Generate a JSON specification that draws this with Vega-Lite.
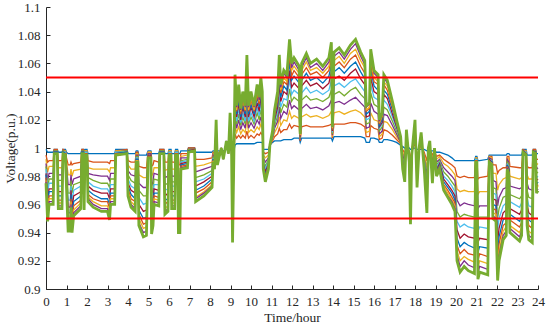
{
"$schema": "https://vega.github.io/schema/vega-lite/v6.json",
"width": 492, "height": 282,
"autosize": {"type": "none"},
"padding": {"left": 46, "top": 7, "right": 12, "bottom": 37},
"background": "white",
"config": {
  "view": {"stroke": null},
  "font": "Liberation Serif",
  "axis": {"domainColor": "#262626", "domainWidth": 1, "tickColor": "#262626", "tickWidth": 1, "tickSize": 4, "labelColor": "#262626", "labelFont": "Liberation Serif", "labelFontSize": 13, "titleFont": "Liberation Serif", "titleFontSize": 13.5, "titleFontWeight": "normal", "titleColor": "#262626", "grid": false, "labelPadding": 6, "labelOverlap": false, "labelFlush": false, "labelBound": false}
},
"resolve": {"axis": {"x": "independent", "y": "independent"}},
"datasets": {"v": [
{"t":0,"a":0.999,"b":0.995,"c":0.992,"d":0.989,"e":0.987,"f":0.985,"g":0.982,"h":0.981,"i":0.979,"j":0.977,"k":0.976,"l":0.975},
{"t":0.08,"a":0.997,"b":0.990,"c":0.983,"d":0.977,"e":0.972,"f":0.968,"g":0.963,"h":0.959,"i":0.956,"j":0.953,"k":0.950,"l":0.948},
{"t":0.15,"a":0.997,"b":0.991,"c":0.987,"d":0.982,"e":0.978,"f":0.975,"g":0.971,"h":0.969,"i":0.966,"j":0.964,"k":0.962,"l":0.960},
{"t":0.35,"a":0.997,"b":0.991,"c":0.987,"d":0.982,"e":0.978,"f":0.975,"g":0.971,"h":0.969,"i":0.966,"j":0.964,"k":0.962,"l":0.960},
{"t":0.4,"a":0.999,"b":0.999,"c":0.998,"d":0.998,"e":0.998,"f":0.997,"g":0.997,"h":0.997,"i":0.996,"j":0.996,"k":0.996,"l":0.996},
{"t":0.55,"a":0.999,"b":0.999,"c":0.998,"d":0.998,"e":0.998,"f":0.997,"g":0.997,"h":0.997,"i":0.996,"j":0.996,"k":0.996,"l":0.996},
{"t":0.6,"a":0.997,"b":0.991,"c":0.986,"d":0.981,"e":0.977,"f":0.973,"g":0.969,"h":0.966,"i":0.963,"j":0.961,"k":0.959,"l":0.957},
{"t":0.78,"a":0.997,"b":0.991,"c":0.986,"d":0.981,"e":0.977,"f":0.973,"g":0.969,"h":0.966,"i":0.963,"j":0.961,"k":0.959,"l":0.957},
{"t":0.83,"a":0.999,"b":0.999,"c":0.998,"d":0.998,"e":0.998,"f":0.997,"g":0.997,"h":0.997,"i":0.996,"j":0.996,"k":0.996,"l":0.996},
{"t":0.95,"a":0.999,"b":0.998,"c":0.998,"d":0.997,"e":0.997,"f":0.997,"g":0.996,"h":0.996,"i":0.996,"j":0.995,"k":0.995,"l":0.995},
{"t":1.0,"a":0.997,"b":0.993,"c":0.990,"d":0.987,"e":0.984,"f":0.982,"g":0.980,"h":0.978,"i":0.976,"j":0.974,"k":0.973,"l":0.972},
{"t":1.08,"a":0.996,"b":0.988,"c":0.981,"d":0.974,"e":0.968,"f":0.963,"g":0.958,"h":0.954,"i":0.950,"j":0.946,"k":0.944,"l":0.941},
{"t":1.18,"a":0.996,"b":0.988,"c":0.981,"d":0.974,"e":0.968,"f":0.963,"g":0.958,"h":0.954,"i":0.950,"j":0.946,"k":0.944,"l":0.941},
{"t":1.22,"a":0.996,"b":0.990,"c":0.985,"d":0.981,"e":0.977,"f":0.973,"g":0.970,"h":0.967,"i":0.964,"j":0.962,"k":0.960,"l":0.958},
{"t":1.27,"a":0.996,"b":0.988,"c":0.980,"d":0.974,"e":0.968,"f":0.962,"g":0.957,"h":0.953,"i":0.949,"j":0.946,"k":0.943,"l":0.940},
{"t":1.35,"a":0.996,"b":0.989,"c":0.984,"d":0.978,"e":0.974,"f":0.970,"g":0.966,"h":0.962,"i":0.959,"j":0.956,"k":0.954,"l":0.952},
{"t":1.7,"a":0.996,"b":0.990,"c":0.985,"d":0.980,"e":0.976,"f":0.973,"g":0.969,"h":0.966,"i":0.963,"j":0.961,"k":0.959,"l":0.957},
{"t":1.75,"a":0.999,"b":0.999,"c":0.998,"d":0.998,"e":0.998,"f":0.997,"g":0.997,"h":0.997,"i":0.996,"j":0.996,"k":0.996,"l":0.996},
{"t":1.83,"a":0.999,"b":0.999,"c":0.998,"d":0.998,"e":0.998,"f":0.997,"g":0.997,"h":0.997,"i":0.996,"j":0.996,"k":0.996,"l":0.996},
{"t":1.86,"a":0.998,"b":0.992,"c":0.986,"d":0.981,"e":0.977,"f":0.973,"g":0.969,"h":0.966,"i":0.963,"j":0.960,"k":0.958,"l":0.956},
{"t":1.9,"a":0.999,"b":0.998,"c":0.998,"d":0.997,"e":0.997,"f":0.997,"g":0.996,"h":0.996,"i":0.996,"j":0.995,"k":0.995,"l":0.995},
{"t":2.0,"a":0.999,"b":0.998,"c":0.998,"d":0.997,"e":0.997,"f":0.997,"g":0.996,"h":0.996,"i":0.996,"j":0.995,"k":0.995,"l":0.995},
{"t":2.05,"a":0.996,"b":0.991,"c":0.986,"d":0.982,"e":0.979,"f":0.976,"g":0.973,"h":0.970,"i":0.967,"j":0.965,"k":0.964,"l":0.962},
{"t":2.3,"a":0.996,"b":0.990,"c":0.985,"d":0.981,"e":0.977,"f":0.973,"g":0.970,"h":0.967,"i":0.964,"j":0.962,"k":0.960,"l":0.958},
{"t":2.7,"a":0.996,"b":0.990,"c":0.985,"d":0.980,"e":0.975,"f":0.971,"g":0.968,"h":0.964,"i":0.962,"j":0.959,"k":0.957,"l":0.955},
{"t":3.0,"a":0.996,"b":0.990,"c":0.985,"d":0.980,"e":0.975,"f":0.971,"g":0.968,"h":0.964,"i":0.962,"j":0.959,"k":0.957,"l":0.955},
{"t":3.1,"a":0.996,"b":0.989,"c":0.983,"d":0.977,"e":0.972,"f":0.968,"g":0.964,"h":0.960,"i":0.957,"j":0.954,"k":0.951,"l":0.949},
{"t":3.15,"a":0.996,"b":0.991,"c":0.986,"d":0.982,"e":0.978,"f":0.974,"g":0.971,"h":0.968,"i":0.966,"j":0.964,"k":0.962,"l":0.960},
{"t":3.35,"a":0.996,"b":0.991,"c":0.986,"d":0.982,"e":0.978,"f":0.974,"g":0.971,"h":0.968,"i":0.966,"j":0.964,"k":0.962,"l":0.960},
{"t":3.4,"a":0.999,"b":0.998,"c":0.998,"d":0.997,"e":0.997,"f":0.997,"g":0.996,"h":0.996,"i":0.996,"j":0.995,"k":0.995,"l":0.995},
{"t":3.95,"a":0.999,"b":0.999,"c":0.998,"d":0.998,"e":0.998,"f":0.997,"g":0.997,"h":0.997,"i":0.996,"j":0.996,"k":0.996,"l":0.996},
{"t":4.0,"a":0.996,"b":0.991,"c":0.988,"d":0.984,"e":0.981,"f":0.978,"g":0.975,"h":0.973,"i":0.971,"j":0.969,"k":0.967,"l":0.966},
{"t":4.15,"a":0.996,"b":0.990,"c":0.985,"d":0.981,"e":0.977,"f":0.973,"g":0.970,"h":0.967,"i":0.964,"j":0.962,"k":0.960,"l":0.958},
{"t":4.35,"a":0.996,"b":0.990,"c":0.985,"d":0.980,"e":0.975,"f":0.971,"g":0.968,"h":0.964,"i":0.962,"j":0.959,"k":0.957,"l":0.955},
{"t":4.4,"a":0.998,"b":0.997,"c":0.996,"d":0.995,"e":0.994,"f":0.993,"g":0.992,"h":0.992,"i":0.991,"j":0.991,"k":0.990,"l":0.990},
{"t":4.48,"a":0.998,"b":0.997,"c":0.996,"d":0.995,"e":0.994,"f":0.993,"g":0.992,"h":0.992,"i":0.991,"j":0.991,"k":0.990,"l":0.990},
{"t":4.53,"a":0.995,"b":0.987,"c":0.981,"d":0.975,"e":0.970,"f":0.965,"g":0.960,"h":0.956,"i":0.953,"j":0.950,"k":0.947,"l":0.945},
{"t":4.75,"a":0.995,"b":0.986,"c":0.979,"d":0.972,"e":0.966,"f":0.960,"g":0.955,"h":0.950,"i":0.946,"j":0.943,"k":0.940,"l":0.937},
{"t":4.9,"a":0.995,"b":0.986,"c":0.979,"d":0.972,"e":0.966,"f":0.961,"g":0.956,"h":0.951,"i":0.947,"j":0.944,"k":0.941,"l":0.938},
{"t":4.98,"a":0.998,"b":0.997,"c":0.997,"d":0.996,"e":0.995,"f":0.995,"g":0.995,"h":0.994,"i":0.994,"j":0.993,"k":0.993,"l":0.993},
{"t":5.12,"a":0.998,"b":0.997,"c":0.997,"d":0.996,"e":0.995,"f":0.995,"g":0.995,"h":0.994,"i":0.994,"j":0.993,"k":0.993,"l":0.993},
{"t":5.15,"a":0.996,"b":0.987,"c":0.980,"d":0.973,"e":0.967,"f":0.962,"g":0.957,"h":0.952,"i":0.948,"j":0.945,"k":0.942,"l":0.939},
{"t":5.22,"a":0.996,"b":0.988,"c":0.982,"d":0.976,"e":0.970,"f":0.965,"g":0.961,"h":0.957,"i":0.953,"j":0.950,"k":0.948,"l":0.945},
{"t":5.27,"a":0.996,"b":0.991,"c":0.986,"d":0.982,"e":0.978,"f":0.974,"g":0.971,"h":0.968,"i":0.966,"j":0.964,"k":0.962,"l":0.960},
{"t":5.5,"a":0.996,"b":0.990,"c":0.986,"d":0.981,"e":0.977,"f":0.974,"g":0.970,"h":0.968,"i":0.965,"j":0.963,"k":0.961,"l":0.959},
{"t":5.55,"a":0.999,"b":0.999,"c":0.998,"d":0.998,"e":0.998,"f":0.997,"g":0.997,"h":0.997,"i":0.996,"j":0.996,"k":0.996,"l":0.996},
{"t":5.75,"a":0.999,"b":0.999,"c":0.998,"d":0.998,"e":0.998,"f":0.997,"g":0.997,"h":0.997,"i":0.996,"j":0.996,"k":0.996,"l":0.996},
{"t":5.8,"a":0.996,"b":0.990,"c":0.984,"d":0.979,"e":0.974,"f":0.970,"g":0.966,"h":0.963,"i":0.960,"j":0.957,"k":0.955,"l":0.953},
{"t":5.95,"a":0.996,"b":0.990,"c":0.985,"d":0.980,"e":0.975,"f":0.971,"g":0.968,"h":0.964,"i":0.962,"j":0.959,"k":0.957,"l":0.955},
{"t":6.0,"a":0.999,"b":0.998,"c":0.998,"d":0.997,"e":0.997,"f":0.997,"g":0.996,"h":0.996,"i":0.996,"j":0.995,"k":0.995,"l":0.995},
{"t":6.1,"a":0.999,"b":0.998,"c":0.998,"d":0.997,"e":0.997,"f":0.997,"g":0.996,"h":0.996,"i":0.996,"j":0.995,"k":0.995,"l":0.995},
{"t":6.13,"a":0.996,"b":0.990,"c":0.985,"d":0.980,"e":0.976,"f":0.973,"g":0.969,"h":0.966,"i":0.963,"j":0.961,"k":0.959,"l":0.957},
{"t":6.28,"a":0.996,"b":0.990,"c":0.985,"d":0.980,"e":0.976,"f":0.973,"g":0.969,"h":0.966,"i":0.963,"j":0.961,"k":0.959,"l":0.957},
{"t":6.32,"a":0.999,"b":0.998,"c":0.998,"d":0.997,"e":0.997,"f":0.997,"g":0.996,"h":0.996,"i":0.996,"j":0.995,"k":0.995,"l":0.995},
{"t":6.42,"a":0.999,"b":0.998,"c":0.998,"d":0.997,"e":0.997,"f":0.997,"g":0.996,"h":0.996,"i":0.996,"j":0.995,"k":0.995,"l":0.995},
{"t":6.46,"a":0.996,"b":0.988,"c":0.980,"d":0.974,"e":0.968,"f":0.962,"g":0.957,"h":0.953,"i":0.949,"j":0.946,"k":0.943,"l":0.940},
{"t":6.53,"a":0.996,"b":0.988,"c":0.980,"d":0.974,"e":0.968,"f":0.962,"g":0.957,"h":0.953,"i":0.949,"j":0.946,"k":0.943,"l":0.940},
{"t":6.58,"a":0.998,"b":0.996,"c":0.994,"d":0.993,"e":0.991,"f":0.990,"g":0.989,"h":0.988,"i":0.987,"j":0.986,"k":0.986,"l":0.985},
{"t":6.9,"a":0.998,"b":0.996,"c":0.995,"d":0.993,"e":0.992,"f":0.991,"g":0.990,"h":0.989,"i":0.988,"j":0.987,"k":0.987,"l":0.986},
{"t":6.95,"a":1.000,"b":1.000,"c":0.999,"d":0.999,"e":0.999,"f":0.998,"g":0.998,"h":0.998,"i":0.997,"j":0.997,"k":0.997,"l":0.997},
{"t":7.25,"a":1.000,"b":1.000,"c":0.999,"d":0.999,"e":0.999,"f":0.999,"g":0.999,"h":0.998,"i":0.998,"j":0.998,"k":0.998,"l":0.998},
{"t":7.3,"a":0.997,"b":0.992,"c":0.987,"d":0.983,"e":0.979,"f":0.976,"g":0.973,"h":0.970,"i":0.968,"j":0.965,"k":0.964,"l":0.962},
{"t":7.7,"a":0.997,"b":0.992,"c":0.988,"d":0.985,"e":0.981,"f":0.978,"g":0.976,"h":0.973,"i":0.971,"j":0.969,"k":0.968,"l":0.966},
{"t":8.1,"a":0.997,"b":0.993,"c":0.990,"d":0.987,"e":0.984,"f":0.982,"g":0.980,"h":0.978,"i":0.976,"j":0.974,"k":0.973,"l":0.972},
{"t":8.15,"a":0.998,"b":0.997,"c":0.996,"d":0.995,"e":0.994,"f":0.993,"g":0.992,"h":0.992,"i":0.991,"j":0.991,"k":0.990,"l":0.990},
{"t":8.22,"a":0.998,"b":0.996,"c":0.994,"d":0.993,"e":0.991,"f":0.990,"g":0.989,"h":0.988,"i":0.987,"j":0.986,"k":0.986,"l":0.985},
{"t":8.3,"a":0.998,"b":1.001,"c":1.004,"d":1.007,"e":1.009,"f":1.011,"g":1.013,"h":1.015,"i":1.016,"j":1.018,"k":1.019,"l":1.020},
{"t":8.36,"a":0.998,"b":0.996,"c":0.995,"d":0.994,"e":0.993,"f":0.992,"g":0.991,"h":0.990,"i":0.990,"j":0.989,"k":0.988,"l":0.988},
{"t":8.55,"a":0.998,"b":0.998,"c":0.999,"d":0.999,"e":0.999,"f":0.999,"g":0.999,"h":1.000,"i":1.000,"j":1.000,"k":1.000,"l":1.000},
{"t":8.65,"a":0.998,"b":0.997,"c":0.996,"d":0.996,"e":0.995,"f":0.994,"g":0.994,"h":0.993,"i":0.993,"j":0.993,"k":0.992,"l":0.992},
{"t":8.8,"a":0.999,"b":1.000,"c":1.001,"d":1.001,"e":1.002,"f":1.003,"g":1.003,"h":1.004,"i":1.004,"j":1.004,"k":1.005,"l":1.005},
{"t":8.9,"a":0.999,"b":0.999,"c":0.998,"d":0.998,"e":0.998,"f":0.997,"g":0.997,"h":0.997,"i":0.996,"j":0.996,"k":0.996,"l":0.996},
{"t":8.98,"a":0.999,"b":1.003,"c":1.006,"d":1.009,"e":1.012,"f":1.015,"g":1.017,"h":1.019,"i":1.021,"j":1.022,"k":1.024,"l":1.025},
{"t":9.05,"a":0.998,"b":0.998,"c":0.999,"d":0.999,"e":0.999,"f":0.999,"g":0.999,"h":1.000,"i":1.000,"j":1.000,"k":1.000,"l":1.000},
{"t":9.1,"a":0.996,"b":0.987,"c":0.978,"d":0.971,"e":0.964,"f":0.958,"g":0.953,"h":0.947,"i":0.943,"j":0.939,"k":0.936,"l":0.933},
{"t":9.17,"a":0.998,"b":0.998,"c":0.999,"d":0.999,"e":0.999,"f":0.999,"g":0.999,"h":1.000,"i":1.000,"j":1.000,"k":1.000,"l":1.000},
{"t":9.22,"a":1.002,"b":1.010,"c":1.016,"d":1.022,"e":1.027,"f":1.032,"g":1.037,"h":1.041,"i":1.044,"j":1.047,"k":1.050,"l":1.052},
{"t":9.3,"a":1.003,"b":1.007,"c":1.011,"d":1.014,"e":1.017,"f":1.019,"g":1.022,"h":1.024,"i":1.026,"j":1.027,"k":1.029,"l":1.030},
{"t":9.4,"a":1.003,"b":1.009,"c":1.015,"d":1.020,"e":1.024,"f":1.028,"g":1.032,"h":1.035,"i":1.038,"j":1.041,"k":1.043,"l":1.045},
{"t":9.5,"a":1.003,"b":1.007,"c":1.010,"d":1.013,"e":1.016,"f":1.018,"g":1.020,"h":1.022,"i":1.024,"j":1.026,"k":1.027,"l":1.028},
{"t":9.6,"a":1.003,"b":1.009,"c":1.013,"d":1.018,"e":1.022,"f":1.025,"g":1.029,"h":1.031,"i":1.034,"j":1.036,"k":1.038,"l":1.040},
{"t":9.72,"a":1.003,"b":1.007,"c":1.011,"d":1.014,"e":1.017,"f":1.019,"g":1.022,"h":1.024,"i":1.026,"j":1.027,"k":1.029,"l":1.030},
{"t":9.8,"a":1.003,"b":1.012,"c":1.021,"d":1.028,"e":1.035,"f":1.041,"g":1.046,"h":1.052,"i":1.056,"j":1.060,"k":1.063,"l":1.066},
{"t":9.88,"a":1.003,"b":1.007,"c":1.011,"d":1.014,"e":1.017,"f":1.019,"g":1.022,"h":1.024,"i":1.026,"j":1.027,"k":1.029,"l":1.030},
{"t":10.0,"a":1.003,"b":1.009,"c":1.013,"d":1.018,"e":1.022,"f":1.025,"g":1.029,"h":1.031,"i":1.034,"j":1.036,"k":1.038,"l":1.040},
{"t":10.15,"a":1.003,"b":1.007,"c":1.011,"d":1.014,"e":1.017,"f":1.019,"g":1.022,"h":1.024,"i":1.026,"j":1.027,"k":1.029,"l":1.030},
{"t":10.3,"a":1.004,"b":1.010,"c":1.015,"d":1.020,"e":1.025,"f":1.029,"g":1.032,"h":1.036,"i":1.038,"j":1.041,"k":1.043,"l":1.045},
{"t":10.4,"a":1.004,"b":1.009,"c":1.013,"d":1.017,"e":1.020,"f":1.023,"g":1.026,"h":1.029,"i":1.031,"j":1.033,"k":1.034,"l":1.036},
{"t":10.48,"a":1.004,"b":1.011,"c":1.017,"d":1.022,"e":1.027,"f":1.032,"g":1.036,"h":1.039,"i":1.043,"j":1.045,"k":1.048,"l":1.050},
{"t":10.55,"a":1.004,"b":1.009,"c":1.014,"d":1.018,"e":1.022,"f":1.026,"g":1.029,"h":1.032,"i":1.034,"j":1.036,"k":1.038,"l":1.040},
{"t":10.6,"a":0.999,"b":0.997,"c":0.995,"d":0.993,"e":0.992,"f":0.991,"g":0.989,"h":0.988,"i":0.987,"j":0.986,"k":0.986,"l":0.985},
{"t":10.7,"a":0.999,"b":0.996,"c":0.993,"d":0.990,"e":0.987,"f":0.985,"g":0.983,"h":0.981,"i":0.980,"j":0.978,"k":0.977,"l":0.976},
{"t":10.85,"a":0.999,"b":0.997,"c":0.995,"d":0.993,"e":0.992,"f":0.991,"g":0.989,"h":0.988,"i":0.987,"j":0.986,"k":0.986,"l":0.985},
{"t":10.92,"a":1.002,"b":1.002,"c":1.002,"d":1.002,"e":1.002,"f":1.002,"g":1.002,"h":1.002,"i":1.002,"j":1.002,"k":1.002,"l":1.002},
{"t":11.05,"a":1.004,"b":1.005,"c":1.006,"d":1.007,"e":1.008,"f":1.009,"g":1.010,"h":1.010,"i":1.011,"j":1.011,"k":1.012,"l":1.012},
{"t":11.15,"a":1.005,"b":1.008,"c":1.011,"d":1.014,"e":1.016,"f":1.018,"g":1.020,"h":1.022,"i":1.023,"j":1.025,"k":1.026,"l":1.027},
{"t":11.3,"a":1.005,"b":1.010,"c":1.015,"d":1.019,"e":1.023,"f":1.026,"g":1.029,"h":1.032,"i":1.034,"j":1.037,"k":1.038,"l":1.040},
{"t":11.38,"a":1.005,"b":1.014,"c":1.022,"d":1.029,"e":1.036,"f":1.042,"g":1.047,"h":1.052,"i":1.056,"j":1.060,"k":1.063,"l":1.066},
{"t":11.45,"a":1.005,"b":1.011,"c":1.016,"d":1.021,"e":1.025,"f":1.029,"g":1.033,"h":1.036,"i":1.039,"j":1.041,"k":1.043,"l":1.045},
{"t":11.6,"a":1.006,"b":1.013,"c":1.020,"d":1.026,"e":1.031,"f":1.035,"g":1.040,"h":1.044,"i":1.047,"j":1.050,"k":1.053,"l":1.055},
{"t":11.75,"a":1.006,"b":1.013,"c":1.019,"d":1.024,"e":1.029,"f":1.034,"g":1.038,"h":1.041,"i":1.045,"j":1.047,"k":1.050,"l":1.052},
{"t":11.88,"a":1.006,"b":1.017,"c":1.026,"d":1.034,"e":1.042,"f":1.049,"g":1.055,"h":1.061,"i":1.066,"j":1.070,"k":1.073,"l":1.077},
{"t":11.98,"a":1.006,"b":1.014,"c":1.021,"d":1.028,"e":1.033,"f":1.038,"g":1.043,"h":1.048,"i":1.051,"j":1.055,"k":1.057,"l":1.060},
{"t":12.1,"a":1.007,"b":1.016,"c":1.023,"d":1.030,"e":1.036,"f":1.041,"g":1.046,"h":1.051,"i":1.055,"j":1.058,"k":1.061,"l":1.064},
{"t":12.35,"a":1.007,"b":1.015,"c":1.021,"d":1.027,"e":1.033,"f":1.038,"g":1.042,"h":1.046,"i":1.050,"j":1.053,"k":1.055,"l":1.058},
{"t":12.4,"a":1.004,"b":1.005,"c":1.006,"d":1.006,"e":1.007,"f":1.008,"g":1.008,"h":1.009,"i":1.009,"j":1.009,"k":1.010,"l":1.010},
{"t":12.47,"a":1.007,"b":1.015,"c":1.022,"d":1.028,"e":1.034,"f":1.039,"g":1.044,"h":1.048,"i":1.052,"j":1.055,"k":1.057,"l":1.060},
{"t":12.7,"a":1.007,"b":1.016,"c":1.024,"d":1.031,"e":1.037,"f":1.043,"g":1.048,"h":1.053,"i":1.057,"j":1.061,"k":1.064,"l":1.067},
{"t":12.9,"a":1.007,"b":1.015,"c":1.022,"d":1.028,"e":1.034,"f":1.039,"g":1.044,"h":1.048,"i":1.052,"j":1.055,"k":1.057,"l":1.060},
{"t":13.2,"a":1.007,"b":1.015,"c":1.023,"d":1.029,"e":1.035,"f":1.041,"g":1.046,"h":1.050,"i":1.054,"j":1.057,"k":1.060,"l":1.063},
{"t":13.5,"a":1.007,"b":1.015,"c":1.021,"d":1.027,"e":1.033,"f":1.038,"g":1.042,"h":1.046,"i":1.050,"j":1.053,"k":1.055,"l":1.058},
{"t":13.8,"a":1.007,"b":1.016,"c":1.023,"d":1.030,"e":1.036,"f":1.041,"g":1.046,"h":1.051,"i":1.055,"j":1.058,"k":1.061,"l":1.064},
{"t":13.92,"a":1.007,"b":1.017,"c":1.026,"d":1.034,"e":1.041,"f":1.048,"g":1.054,"h":1.059,"i":1.064,"j":1.068,"k":1.072,"l":1.075},
{"t":13.97,"a":1.005,"b":1.007,"c":1.008,"d":1.009,"e":1.010,"f":1.011,"g":1.012,"h":1.013,"i":1.013,"j":1.014,"k":1.015,"l":1.015},
{"t":14.05,"a":1.008,"b":1.017,"c":1.025,"d":1.032,"e":1.038,"f":1.044,"g":1.049,"h":1.054,"i":1.058,"j":1.062,"k":1.065,"l":1.068},
{"t":14.3,"a":1.008,"b":1.017,"c":1.026,"d":1.033,"e":1.040,"f":1.046,"g":1.051,"h":1.057,"i":1.061,"j":1.065,"k":1.068,"l":1.071},
{"t":14.55,"a":1.008,"b":1.017,"c":1.024,"d":1.031,"e":1.037,"f":1.043,"g":1.048,"h":1.053,"i":1.057,"j":1.060,"k":1.063,"l":1.066},
{"t":14.85,"a":1.008,"b":1.018,"c":1.026,"d":1.034,"e":1.041,"f":1.047,"g":1.053,"h":1.058,"i":1.063,"j":1.067,"k":1.070,"l":1.073},
{"t":15.1,"a":1.008,"b":1.018,"c":1.027,"d":1.036,"e":1.043,"f":1.049,"g":1.056,"h":1.061,"i":1.066,"j":1.070,"k":1.074,"l":1.077},
{"t":15.35,"a":1.008,"b":1.017,"c":1.025,"d":1.032,"e":1.038,"f":1.044,"g":1.049,"h":1.054,"i":1.058,"j":1.062,"k":1.065,"l":1.068},
{"t":15.55,"a":1.007,"b":1.015,"c":1.022,"d":1.029,"e":1.035,"f":1.040,"g":1.045,"h":1.049,"i":1.053,"j":1.057,"k":1.059,"l":1.062},
{"t":15.62,"a":1.004,"b":1.008,"c":1.011,"d":1.014,"e":1.017,"f":1.020,"g":1.022,"h":1.024,"i":1.026,"j":1.027,"k":1.029,"l":1.030},
{"t":15.78,"a":1.004,"b":1.008,"c":1.012,"d":1.015,"e":1.018,"f":1.021,"g":1.023,"h":1.026,"i":1.028,"j":1.029,"k":1.031,"l":1.032},
{"t":15.84,"a":1.007,"b":1.016,"c":1.025,"d":1.032,"e":1.039,"f":1.045,"g":1.050,"h":1.056,"i":1.060,"j":1.064,"k":1.067,"l":1.070},
{"t":16.0,"a":1.007,"b":1.014,"c":1.020,"d":1.026,"e":1.031,"f":1.036,"g":1.040,"h":1.044,"i":1.047,"j":1.050,"k":1.053,"l":1.055},
{"t":16.2,"a":1.006,"b":1.013,"c":1.019,"d":1.024,"e":1.029,"f":1.034,"g":1.038,"h":1.041,"i":1.045,"j":1.047,"k":1.050,"l":1.052},
{"t":16.26,"a":1.004,"b":1.006,"c":1.008,"d":1.010,"e":1.012,"f":1.014,"g":1.015,"h":1.016,"i":1.017,"j":1.018,"k":1.019,"l":1.020},
{"t":16.4,"a":1.004,"b":1.007,"c":1.010,"d":1.012,"e":1.015,"f":1.017,"g":1.018,"h":1.020,"i":1.022,"j":1.023,"k":1.024,"l":1.025},
{"t":16.48,"a":1.006,"b":1.013,"c":1.019,"d":1.024,"e":1.029,"f":1.034,"g":1.038,"h":1.041,"i":1.045,"j":1.047,"k":1.050,"l":1.052},
{"t":16.65,"a":1.006,"b":1.012,"c":1.018,"d":1.023,"e":1.027,"f":1.031,"g":1.035,"h":1.038,"i":1.041,"j":1.044,"k":1.046,"l":1.048},
{"t":16.9,"a":1.005,"b":1.009,"c":1.013,"d":1.016,"e":1.019,"f":1.022,"g":1.024,"h":1.027,"i":1.029,"j":1.030,"k":1.032,"l":1.033},
{"t":17.1,"a":1.004,"b":1.006,"c":1.008,"d":1.010,"e":1.012,"f":1.014,"g":1.015,"h":1.016,"i":1.017,"j":1.018,"k":1.019,"l":1.020},
{"t":17.3,"a":1.002,"b":1.003,"c":1.004,"d":1.004,"e":1.005,"f":1.006,"g":1.006,"h":1.007,"i":1.007,"j":1.007,"k":1.008,"l":1.008},
{"t":17.4,"a":1.001,"b":0.999,"c":0.997,"d":0.995,"e":0.993,"f":0.991,"g":0.990,"h":0.989,"i":0.988,"j":0.987,"k":0.986,"l":0.985},
{"t":17.5,"a":1.000,"b":0.996,"c":0.993,"d":0.990,"e":0.988,"f":0.986,"g":0.983,"h":0.982,"i":0.980,"j":0.978,"k":0.977,"l":0.976},
{"t":17.58,"a":1.000,"b":1.002,"c":1.004,"d":1.005,"e":1.007,"f":1.008,"g":1.009,"h":1.010,"i":1.011,"j":1.012,"k":1.012,"l":1.013},
{"t":17.72,"a":1.000,"b":0.998,"c":0.997,"d":0.996,"e":0.995,"f":0.994,"g":0.993,"h":0.992,"i":0.992,"j":0.991,"k":0.990,"l":0.990},
{"t":17.78,"a":0.999,"b":0.991,"c":0.984,"d":0.978,"e":0.972,"f":0.967,"g":0.962,"h":0.958,"i":0.954,"j":0.951,"k":0.949,"l":0.946},
{"t":17.84,"a":0.999,"b":0.998,"c":0.998,"d":0.997,"e":0.997,"f":0.997,"g":0.996,"h":0.996,"i":0.996,"j":0.995,"k":0.995,"l":0.995},
{"t":18.0,"a":1.000,"b":1.003,"c":1.006,"d":1.008,"e":1.010,"f":1.012,"g":1.014,"h":1.015,"i":1.017,"j":1.018,"k":1.019,"l":1.020},
{"t":18.1,"a":0.999,"b":0.995,"c":0.991,"d":0.988,"e":0.985,"f":0.983,"g":0.980,"h":0.978,"i":0.976,"j":0.975,"k":0.973,"l":0.972},
{"t":18.2,"a":0.999,"b":0.999,"c":0.999,"d":0.999,"e":1.000,"f":1.000,"g":1.000,"h":1.000,"i":1.000,"j":1.000,"k":1.000,"l":1.000},
{"t":18.3,"a":0.999,"b":1.001,"c":1.002,"d":1.004,"e":1.005,"f":1.006,"g":1.007,"h":1.008,"i":1.009,"j":1.010,"k":1.010,"l":1.011},
{"t":18.45,"a":0.999,"b":0.997,"c":0.995,"d":0.993,"e":0.992,"f":0.991,"g":0.989,"h":0.988,"i":0.987,"j":0.986,"k":0.986,"l":0.985},
{"t":18.58,"a":0.998,"b":0.991,"c":0.986,"d":0.980,"e":0.976,"f":0.972,"g":0.968,"h":0.964,"i":0.961,"j":0.958,"k":0.956,"l":0.954},
{"t":18.65,"a":0.998,"b":0.998,"c":0.999,"d":0.999,"e":0.999,"f":0.999,"g":0.999,"h":1.000,"i":1.000,"j":1.000,"k":1.000,"l":1.000},
{"t":18.72,"a":0.998,"b":0.999,"c":1.000,"d":1.001,"e":1.002,"f":1.002,"g":1.003,"h":1.003,"i":1.004,"j":1.004,"k":1.005,"l":1.005},
{"t":18.85,"a":0.998,"b":0.995,"c":0.992,"d":0.989,"e":0.986,"f":0.984,"g":0.982,"h":0.980,"i":0.979,"j":0.977,"k":0.976,"l":0.975},
{"t":18.95,"a":0.998,"b":0.998,"c":0.999,"d":0.999,"e":0.999,"f":0.999,"g":0.999,"h":1.000,"i":1.000,"j":1.000,"k":1.000,"l":1.000},
{"t":19.05,"a":0.997,"b":0.994,"c":0.992,"d":0.990,"e":0.988,"f":0.987,"g":0.985,"h":0.984,"i":0.983,"j":0.982,"k":0.981,"l":0.980},
{"t":19.2,"a":0.997,"b":0.995,"c":0.994,"d":0.992,"e":0.991,"f":0.990,"g":0.989,"h":0.988,"i":0.987,"j":0.986,"k":0.986,"l":0.985},
{"t":19.4,"a":0.996,"b":0.992,"c":0.989,"d":0.986,"e":0.983,"f":0.980,"g":0.978,"h":0.976,"i":0.974,"j":0.973,"k":0.971,"l":0.970},
{"t":19.6,"a":0.995,"b":0.990,"c":0.987,"d":0.983,"e":0.980,"f":0.977,"g":0.974,"h":0.972,"i":0.970,"j":0.968,"k":0.966,"l":0.965},
{"t":19.8,"a":0.993,"b":0.988,"c":0.984,"d":0.980,"e":0.976,"f":0.973,"g":0.970,"h":0.968,"i":0.965,"j":0.963,"k":0.962,"l":0.960},
{"t":19.95,"a":0.991,"b":0.986,"c":0.981,"d":0.977,"e":0.973,"f":0.969,"g":0.966,"h":0.963,"i":0.961,"j":0.959,"k":0.957,"l":0.955},
{"t":20.05,"a":0.991,"b":0.980,"c":0.971,"d":0.963,"e":0.955,"f":0.948,"g":0.942,"h":0.936,"i":0.931,"j":0.927,"k":0.924,"l":0.920},
{"t":20.2,"a":0.991,"b":0.979,"c":0.969,"d":0.959,"e":0.951,"f":0.944,"g":0.936,"h":0.930,"i":0.925,"j":0.920,"k":0.916,"l":0.912},
{"t":20.4,"a":0.991,"b":0.980,"c":0.970,"d":0.961,"e":0.953,"f":0.946,"g":0.939,"h":0.933,"i":0.928,"j":0.923,"k":0.920,"l":0.916},
{"t":20.6,"a":0.991,"b":0.979,"c":0.969,"d":0.960,"e":0.952,"f":0.944,"g":0.937,"h":0.931,"i":0.925,"j":0.921,"k":0.917,"l":0.913},
{"t":20.9,"a":0.991,"b":0.979,"c":0.969,"d":0.959,"e":0.951,"f":0.943,"g":0.936,"h":0.929,"i":0.924,"j":0.919,"k":0.915,"l":0.911},
{"t":20.96,"a":0.994,"b":0.993,"c":0.993,"d":0.992,"e":0.992,"f":0.992,"g":0.991,"h":0.991,"i":0.991,"j":0.990,"k":0.990,"l":0.990},
{"t":21.02,"a":0.994,"b":0.993,"c":0.993,"d":0.992,"e":0.992,"f":0.992,"g":0.991,"h":0.991,"i":0.991,"j":0.990,"k":0.990,"l":0.990},
{"t":21.07,"a":0.991,"b":0.978,"c":0.967,"d":0.957,"e":0.949,"f":0.941,"g":0.933,"h":0.926,"i":0.920,"j":0.915,"k":0.911,"l":0.907},
{"t":21.15,"a":0.991,"b":0.979,"c":0.969,"d":0.959,"e":0.951,"f":0.944,"g":0.936,"h":0.930,"i":0.925,"j":0.920,"k":0.916,"l":0.912},
{"t":21.55,"a":0.992,"b":0.980,"c":0.969,"d":0.959,"e":0.951,"f":0.943,"g":0.935,"h":0.929,"i":0.923,"j":0.918,"k":0.914,"l":0.910},
{"t":21.62,"a":0.995,"b":0.994,"c":0.994,"d":0.993,"e":0.992,"f":0.992,"g":0.992,"h":0.991,"i":0.991,"j":0.990,"k":0.990,"l":0.990},
{"t":21.75,"a":0.995,"b":0.994,"c":0.993,"d":0.992,"e":0.991,"f":0.991,"g":0.990,"h":0.990,"i":0.989,"j":0.989,"k":0.988,"l":0.988},
{"t":21.8,"a":0.995,"b":0.988,"c":0.982,"d":0.977,"e":0.972,"f":0.968,"g":0.964,"h":0.960,"i":0.957,"j":0.954,"k":0.952,"l":0.950},
{"t":21.95,"a":0.995,"b":0.988,"c":0.982,"d":0.976,"e":0.971,"f":0.967,"g":0.963,"h":0.959,"i":0.956,"j":0.953,"k":0.950,"l":0.948},
{"t":22.03,"a":0.995,"b":0.982,"c":0.970,"d":0.959,"e":0.950,"f":0.942,"g":0.934,"h":0.926,"i":0.920,"j":0.915,"k":0.910,"l":0.906},
{"t":22.1,"a":0.995,"b":0.984,"c":0.974,"d":0.965,"e":0.957,"f":0.950,"g":0.943,"h":0.937,"i":0.932,"j":0.927,"k":0.924,"l":0.920},
{"t":22.3,"a":0.995,"b":0.986,"c":0.978,"d":0.971,"e":0.965,"f":0.959,"g":0.954,"h":0.949,"i":0.945,"j":0.941,"k":0.938,"l":0.935},
{"t":22.45,"a":0.995,"b":0.986,"c":0.979,"d":0.972,"e":0.966,"f":0.961,"g":0.956,"h":0.951,"i":0.947,"j":0.944,"k":0.941,"l":0.938},
{"t":22.5,"a":0.996,"b":0.994,"c":0.993,"d":0.992,"e":0.990,"f":0.989,"g":0.988,"h":0.988,"i":0.987,"j":0.986,"k":0.986,"l":0.985},
{"t":22.58,"a":0.996,"b":0.994,"c":0.992,"d":0.990,"e":0.988,"f":0.986,"g":0.985,"h":0.984,"i":0.983,"j":0.982,"k":0.981,"l":0.980},
{"t":22.63,"a":0.995,"b":0.987,"c":0.980,"d":0.973,"e":0.967,"f":0.962,"g":0.957,"h":0.953,"i":0.949,"j":0.945,"k":0.943,"l":0.940},
{"t":23.1,"a":0.995,"b":0.986,"c":0.978,"d":0.971,"e":0.964,"f":0.958,"g":0.953,"h":0.948,"i":0.944,"j":0.940,"k":0.937,"l":0.934},
{"t":23.2,"a":0.995,"b":0.986,"c":0.979,"d":0.972,"e":0.966,"f":0.961,"g":0.956,"h":0.951,"i":0.947,"j":0.944,"k":0.941,"l":0.938},
{"t":23.27,"a":0.999,"b":0.999,"c":0.998,"d":0.998,"e":0.998,"f":0.998,"g":0.998,"h":0.997,"i":0.997,"j":0.997,"k":0.997,"l":0.997},
{"t":23.42,"a":0.999,"b":0.998,"c":0.998,"d":0.997,"e":0.997,"f":0.997,"g":0.996,"h":0.996,"i":0.996,"j":0.995,"k":0.995,"l":0.995},
{"t":23.47,"a":0.995,"b":0.987,"c":0.981,"d":0.975,"e":0.970,"f":0.965,"g":0.960,"h":0.956,"i":0.953,"j":0.950,"k":0.947,"l":0.945},
{"t":23.55,"a":0.995,"b":0.986,"c":0.978,"d":0.971,"e":0.965,"f":0.959,"g":0.954,"h":0.949,"i":0.945,"j":0.941,"k":0.938,"l":0.935},
{"t":23.72,"a":0.995,"b":0.986,"c":0.978,"d":0.970,"e":0.964,"f":0.958,"g":0.952,"h":0.947,"i":0.943,"j":0.939,"k":0.936,"l":0.933},
{"t":23.77,"a":0.999,"b":0.999,"c":0.998,"d":0.998,"e":0.998,"f":0.998,"g":0.998,"h":0.997,"i":0.997,"j":0.997,"k":0.997,"l":0.997},
{"t":23.88,"a":0.999,"b":0.999,"c":0.998,"d":0.998,"e":0.998,"f":0.997,"g":0.997,"h":0.997,"i":0.996,"j":0.996,"k":0.996,"l":0.996},
{"t":23.93,"a":0.996,"b":0.992,"c":0.988,"d":0.985,"e":0.982,"f":0.979,"g":0.977,"h":0.974,"i":0.972,"j":0.971,"k":0.969,"l":0.968},
{"t":24,"a":0.996,"b":0.992,"c":0.989,"d":0.986,"e":0.983,"f":0.980,"g":0.978,"h":0.976,"i":0.974,"j":0.973,"k":0.971,"l":0.970}
]},
"layer": [
  {
    "data": {"name": "v"},
    "transform": [{"fold": ["a","b","c","d","e","f","g","h","i","j","k"], "as": ["s","v"]}],
    "mark": {"type": "line", "strokeWidth": 1.3},
    "encoding": {
      "x": {"field": "t", "type": "quantitative", "scale": {"domain": [0,24], "nice": false, "zero": false},
            "axis": {"orient": "bottom", "title": "Time/hour", "ticks": false, "values": [0,1,2,3,4,5,6,7,8,9,10,11,12,13,14,15,16,17,18,19,20,21,22,23,24], "format": "d", "titleY": 32, "titleBaseline": "alphabetic"}},
      "y": {"field": "v", "type": "quantitative", "scale": {"domain": [0.9,1.1], "nice": false, "zero": false},
            "axis": {"orient": "left", "title": "Voltage(p.u.)", "ticks": false, "values": [0.9,0.92,0.94,0.96,0.98,1,1.02,1.04,1.06,1.08,1.1], "format": "~g", "titleX": -32, "titleY": 141, "titleAngle": 270, "titleBaseline": "alphabetic", "titleAlign": "center"}},
      "color": {"field": "s", "type": "nominal", "scale": {"domain": ["a","b","c","d","e","f","g","h","i","j","k"], "range": ["#0072BD","#D95319","#EDB120","#7E2F8E","#77AC30","#4DBEEE","#A2142F","#0072BD","#D95319","#EDB120","#7E2F8E"]}, "legend": null}
    }
  },
  {
    "data": {"name": "v"},
    "mark": {"type": "line", "strokeWidth": 2.8, "color": "#77AC30"},
    "encoding": {
      "x": {"field": "t", "type": "quantitative",
            "axis": {"orient": "top", "offset": -282, "title": null, "labels": false, "domain": false, "ticks": true, "tickSize": 4, "values": [0,1,2,3,4,5,6,7,8,9,10,11,12,13,14,15,16,17,18,19,20,21,22,23,24]}},
      "y": {"field": "l", "type": "quantitative",
            "axis": {"orient": "right", "offset": -492, "title": null, "labels": false, "domain": false, "ticks": true, "tickSize": 4, "values": [0.9,0.92,0.94,0.96,0.98,1,1.02,1.04,1.06,1.08,1.1]}}
    }
  },
  {
    "data": {"values": [{"r": 0.95}, {"r": 1.05}]},
    "mark": {"type": "rule", "color": "#FF0000", "strokeWidth": 2.2},
    "encoding": {
      "y": {"field": "r", "type": "quantitative", "axis": null}
    }
  }
]
}
